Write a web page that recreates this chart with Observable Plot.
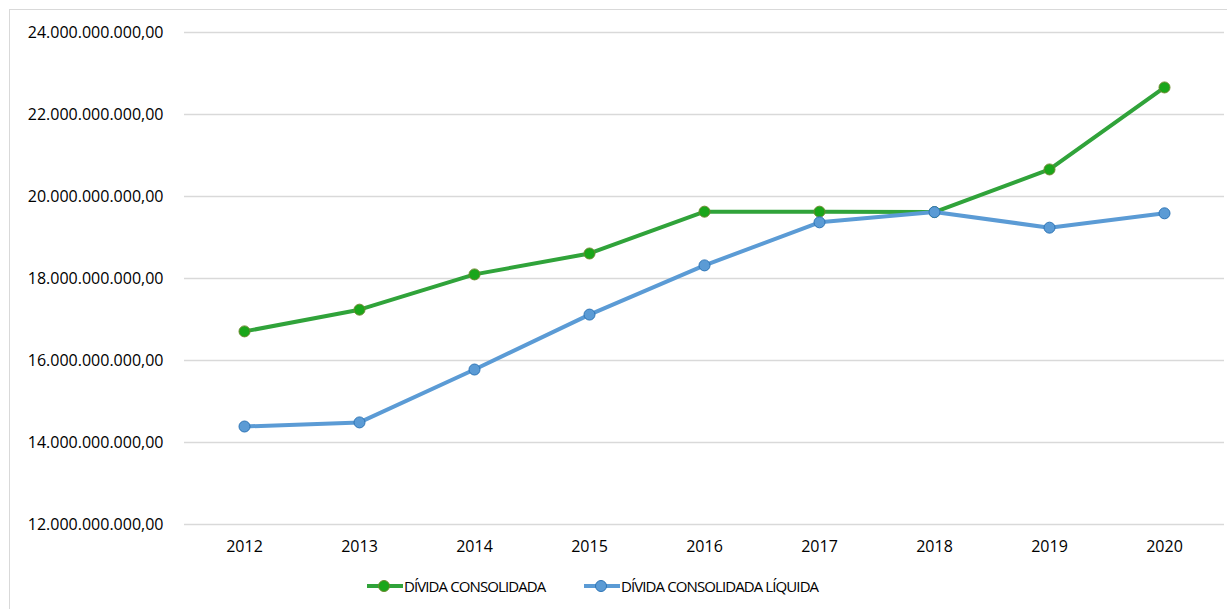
<!DOCTYPE html>
<html>
<head>
<meta charset="utf-8">
<script src="https://cdn.jsdelivr.net/npm/d3@7"></script>
<script src="https://cdn.jsdelivr.net/npm/@observablehq/plot@0.6"></script>
<style>
  html, body { margin: 0; padding: 0; background: #fff; }
  body { width: 1227px; height: 609px; position: relative; overflow: hidden; font-family: "Open Sans", sans-serif; }
  #frame { position: absolute; left: 9px; top: 9px; width: 1230px; height: 620px; border: 1px solid #d9d9d9; box-sizing: border-box; }
  #chart { position: absolute; left: 0; top: 0; }
  #legend { position: absolute; top: 574px; left: 0; width: 1227px; height: 24px; font-size: 15px; letter-spacing: -0.9px; color: #000; }
  .item { position: absolute; top: 0; display: flex; align-items: center; height: 24px; }
  .item svg { display: block; }
</style>
</head>
<body>
<div id="frame"></div>
<div id="chart"></div>
<div id="legend"></div>
<script>
const years = ["2012","2013","2014","2015","2016","2017","2018","2019","2020"];
const dividaConsolidada = [16.71e9, 17.24e9, 18.10e9, 18.61e9, 19.63e9, 19.63e9, 19.62e9, 20.66e9, 22.66e9];
const dividaLiquida = [14.39e9, 14.49e9, 15.78e9, 17.12e9, 18.32e9, 19.37e9, 19.62e9, 19.24e9, 19.59e9];
const seriesNames = ["DÍVIDA CONSOLIDADA", "DÍVIDA CONSOLIDADA LÍQUIDA"];
const yTicks = [12e9, 14e9, 16e9, 18e9, 20e9, 22e9, 24e9];

const green = {line: "#30a33a", fill: "#1aa61a", stroke: "#6b8a2e"};
const blue = {line: "#5b9bd5", fill: "#5b9bd5", stroke: "#2e75b6"};

const rowsA = years.map((y, i) => ({year: y, value: dividaConsolidada[i]}));
const rowsB = years.map((y, i) => ({year: y, value: dividaLiquida[i]}));

const ptBR = d3.formatLocale({decimal: ",", thousands: ".", grouping: [3], currency: ["R$", ""]});
const fmt = ptBR.format(",.2f");

const chart = Plot.plot({
  width: 1227,
  height: 560,
  marginTop: 32,
  marginBottom: 36,
  marginLeft: 184,
  marginRight: 3,
  style: {fontFamily: "Open Sans, sans-serif", fontSize: "16px", color: "#000", background: "transparent"},
  x: {type: "point", domain: years, padding: 0.5, label: null},
  y: {domain: [12e9, 24e9], label: null},
  marks: [
    Plot.gridY(yTicks, {stroke: "#d9d9d9", strokeOpacity: 1, strokeWidth: 1.5}),
    Plot.axisY(yTicks, {tickSize: 0, tickPadding: 21, tickFormat: fmt, label: null}),
    Plot.axisX({tickSize: 0, tickPadding: 16, label: null}),
    Plot.line(rowsA, {x: "year", y: "value", stroke: green.line, strokeWidth: 4}),
    Plot.dot(rowsA, {x: "year", y: "value", r: 5.5, fill: green.fill, stroke: green.stroke, strokeWidth: 1}),
    Plot.line(rowsB, {x: "year", y: "value", stroke: blue.line, strokeWidth: 4}),
    Plot.dot(rowsB, {x: "year", y: "value", r: 5.5, fill: blue.fill, stroke: blue.stroke, strokeWidth: 1})
  ]
});
document.getElementById("chart").appendChild(chart);

const legend = document.getElementById("legend");
const legendDefs = [
  {name: seriesNames[0], c: green, left: 366},
  {name: seriesNames[1], c: blue, left: 583}
];
for (const d of legendDefs) {
  const item = document.createElement("div");
  item.className = "item";
  item.style.left = d.left + "px";
  item.innerHTML = `<svg width="38" height="24"><line x1="1" x2="37" y1="12" y2="12" stroke="${d.c.line}" stroke-width="4"/><circle cx="18" cy="12" r="5.5" fill="${d.c.fill}" stroke="${d.c.stroke}"/></svg><span>${d.name}</span>`;
  legend.appendChild(item);
}
</script>
</body>
</html>
